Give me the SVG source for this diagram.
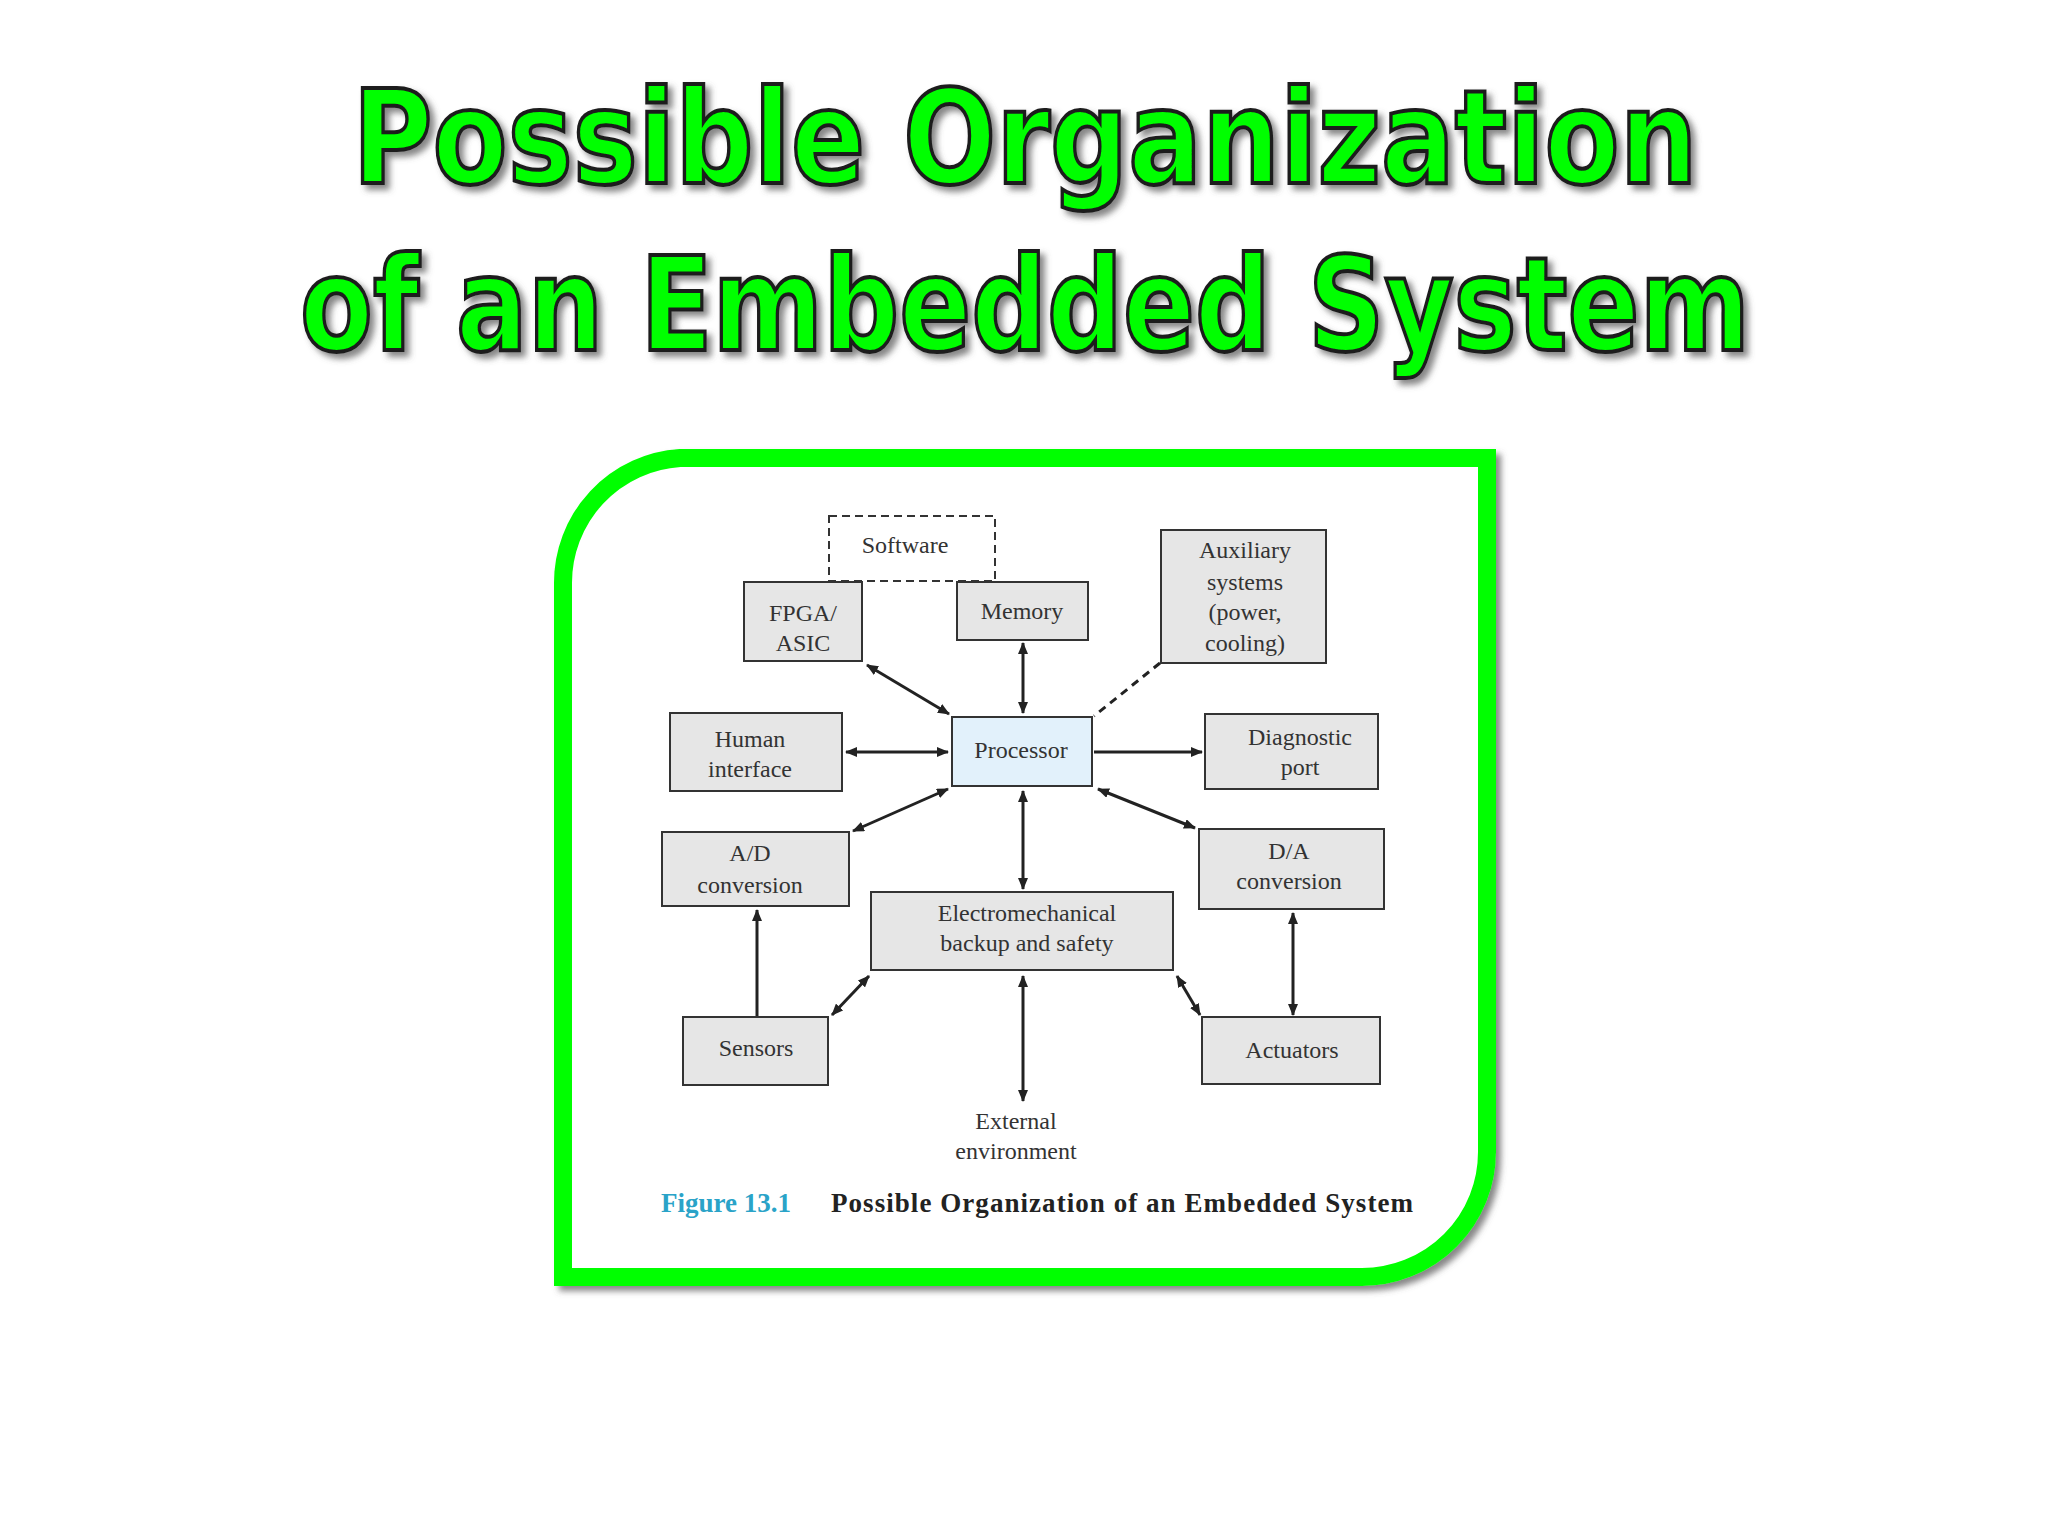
<svg xmlns="http://www.w3.org/2000/svg" width="2048" height="1536" viewBox="0 0 2048 1536">
<defs>
<marker id="ah" markerWidth="12" markerHeight="10" refX="11" refY="5" orient="auto-start-reverse" markerUnits="userSpaceOnUse"><path d="M0,0 L12,5 L0,10 Z" fill="#222"/></marker>
<filter id="sh" x="-10%" y="-20%" width="120%" height="140%"><feDropShadow dx="5" dy="5" stdDeviation="3" flood-color="#555" flood-opacity="0.7"/></filter>
</defs>
<style>
.t{font-family:"DejaVu Sans",sans-serif;font-weight:bold;font-size:130px;fill:#00ff00;stroke:#1a1a1a;stroke-width:4;text-anchor:middle}
.b{fill:#e6e6e6;stroke:#333;stroke-width:2}
.l{font-family:"Liberation Serif",serif;font-size:24px;fill:#333;text-anchor:middle}
.c{stroke:#222;stroke-width:3;fill:none}
.a{marker-end:url(#ah)}
.aa{marker-start:url(#ah);marker-end:url(#ah)}
</style>
<rect width="2048" height="1536" fill="#fff"/>
<g id="title" filter="url(#sh)">
<text class="t" x="1025" y="183" textLength="1345" lengthAdjust="spacingAndGlyphs">Possible Organization</text>
<text class="t" x="1025" y="350" textLength="1450" lengthAdjust="spacingAndGlyphs">of an Embedded System</text>
</g>
<path id="frame" d="M680 458 L1487 458 L1487 1152 A125 125 0 0 1 1362 1277 L563 1277 L563 583 A125 125 0 0 1 680 458 Z" fill="#fff" stroke="#00ff00" stroke-width="18" filter="url(#sh)"/>
<g id="connectors">
<line class="c aa" x1="867" y1="665" x2="949" y2="714"/>
<line class="c aa" x1="1023" y1="643" x2="1023" y2="713"/>
<line class="c" x1="1160" y1="663" x2="1094" y2="716" stroke-dasharray="8,6"/>
<line class="c aa" x1="846" y1="752" x2="948" y2="752"/>
<line class="c a" x1="1094" y1="752" x2="1202" y2="752"/>
<line class="c aa" x1="853" y1="831" x2="948" y2="789"/>
<line class="c aa" x1="1195" y1="828" x2="1098" y2="789"/>
<line class="c aa" x1="1023" y1="791" x2="1023" y2="889"/>
<line class="c a" x1="757" y1="1017" x2="757" y2="910"/>
<line class="c aa" x1="832" y1="1015" x2="869" y2="976"/>
<line class="c aa" x1="1200" y1="1015" x2="1177" y2="976"/>
<line class="c aa" x1="1293" y1="913" x2="1293" y2="1015"/>
<line class="c aa" x1="1023" y1="976" x2="1023" y2="1101"/>
</g>
<g id="software"><rect x="829" y="516" width="166" height="65" fill="#fff" stroke="#333" stroke-width="2" stroke-dasharray="8,5"/><text class="l" x="905" y="553">Software</text></g>
<g id="fpga"><rect class="b" x="744" y="582" width="118" height="79"/><text class="l" x="803" y="621">FPGA/</text><text class="l" x="803" y="651">ASIC</text></g>
<g id="memory"><rect class="b" x="957" y="582" width="131" height="58"/><text class="l" x="1022" y="619">Memory</text></g>
<g id="aux"><rect class="b" x="1161" y="530" width="165" height="133"/><text class="l" x="1245" y="558">Auxiliary</text><text class="l" x="1245" y="590">systems</text><text class="l" x="1245" y="620">(power,</text><text class="l" x="1245" y="651">cooling)</text></g>
<g id="human"><rect class="b" x="670" y="713" width="172" height="78"/><text class="l" x="750" y="747">Human</text><text class="l" x="750" y="777">interface</text></g>
<g id="processor"><rect x="952" y="717" width="140" height="69" fill="#e2f1fb" stroke="#333" stroke-width="2"/><text class="l" x="1021" y="758">Processor</text></g>
<g id="diag"><rect class="b" x="1205" y="714" width="173" height="75"/><text class="l" x="1300" y="745">Diagnostic</text><text class="l" x="1300" y="775">port</text></g>
<g id="ad"><rect class="b" x="662" y="832" width="187" height="74"/><text class="l" x="750" y="861">A/D</text><text class="l" x="750" y="893">conversion</text></g>
<g id="da"><rect class="b" x="1199" y="829" width="185" height="80"/><text class="l" x="1289" y="859">D/A</text><text class="l" x="1289" y="889">conversion</text></g>
<g id="electro"><rect class="b" x="871" y="892" width="302" height="78"/><text class="l" x="1027" y="921">Electromechanical</text><text class="l" x="1027" y="951">backup and safety</text></g>
<g id="sensors"><rect class="b" x="683" y="1017" width="145" height="68"/><text class="l" x="756" y="1056">Sensors</text></g>
<g id="actuators"><rect class="b" x="1202" y="1017" width="178" height="67"/><text class="l" x="1292" y="1058">Actuators</text></g>
<g id="external"><text class="l" x="1016" y="1129">External</text><text class="l" x="1016" y="1159">environment</text></g>
<g id="caption"><text x="661" y="1212" font-family="Liberation Serif,serif" font-size="27" font-weight="bold" fill="#2aa3c8">Figure 13.1</text><text x="831" y="1212" font-family="Liberation Serif,serif" font-size="27" font-weight="bold" fill="#222" textLength="582">Possible Organization of an Embedded System</text></g>
</svg>
